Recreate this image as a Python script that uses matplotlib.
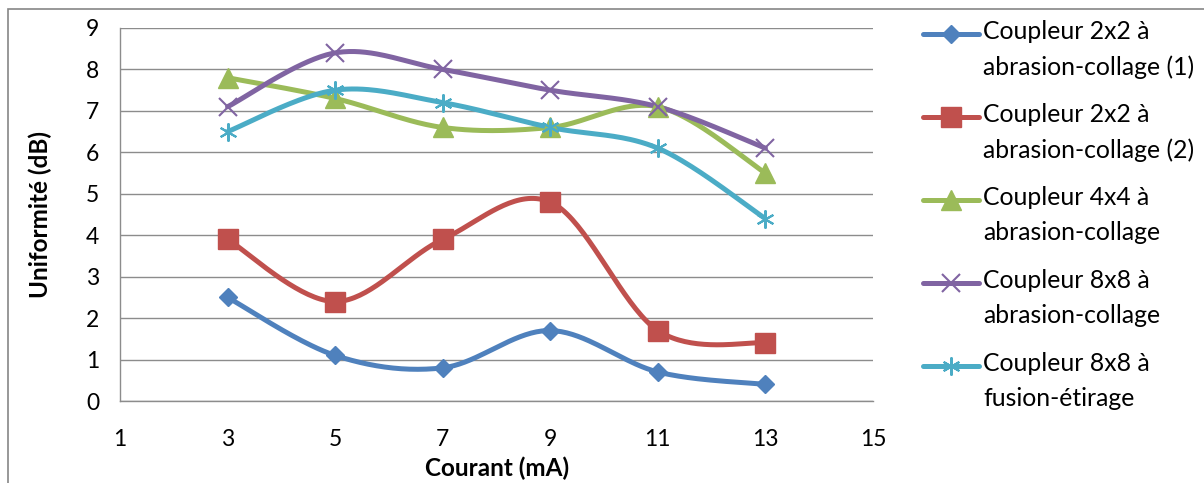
import numpy as np
import matplotlib
matplotlib.use("Agg")
import matplotlib.pyplot as plt
from matplotlib.lines import Line2D
from matplotlib.patches import Rectangle

plt.rcParams['font.family'] = ['Lato', 'DejaVu Sans']

courant = [3, 5, 7, 9, 11, 13]
s_2x2_1 = [2.5, 1.1, 0.8, 1.7, 0.7, 0.4]
s_2x2_2 = [3.9, 2.4, 3.9, 4.8, 1.7, 1.4]
s_4x4 = [7.8, 7.3, 6.6, 6.6, 7.1, 5.5]
s_8x8_ab = [7.1, 8.4, 8.0, 7.5, 7.1, 6.1]
s_8x8_fu = [6.5, 7.5, 7.2, 6.6, 6.1, 4.4]

labels = ["Coupleur 2x2 à\nabrasion-collage (1)",
          "Coupleur 2x2 à\nabrasion-collage (2)",
          "Coupleur 4x4 à\nabrasion-collage",
          "Coupleur 8x8 à\nabrasion-collage",
          "Coupleur 8x8 à\nfusion-étirage"]
series = [s_2x2_1, s_2x2_2, s_4x4, s_8x8_ab, s_8x8_fu]
colors = ["#4F81BD", "#C0504D", "#9BBB59", "#8064A2", "#4BACC6"]
markers = ["D", "s", "^", "x", "*"]
msizes = [9.5, 14, 14, 13, 13]
xticks = [1, 3, 5, 7, 9, 11, 13, 15]
yticks = list(range(0, 10))


def smooth(x, y, n=40):
    x = np.asarray(x, float); y = np.asarray(y, float)
    P = np.column_stack([x, y])
    P = np.vstack([P[0], P, P[-1]])
    out = []
    t = np.linspace(0, 1, n)[:, None]
    for i in range(1, len(P) - 2):
        p0, p1, p2, p3 = P[i - 1], P[i], P[i + 1], P[i + 2]
        c1 = p1 + (p2 - p0) / 6.0
        c2 = p2 - (p3 - p1) / 6.0
        seg = ((1 - t) ** 3) * p1 + 3 * ((1 - t) ** 2) * t * c1 + 3 * (1 - t) * t ** 2 * c2 + t ** 3 * p2
        out.append(seg if i == 1 else seg[1:])
    seg = np.vstack(out)
    return seg[:, 0], seg[:, 1]


def mk_of(m):
    return (6, 2, 0) if m == "*" else m


W, H = 1204, 483
fig = plt.figure(figsize=(W / 100, H / 100), dpi=100)
fig.patches.append(Rectangle((8 / W, -0.1), 1.2, 1 - 9 / H + 0.1, transform=fig.transFigure,
                             fill=False, edgecolor="#868686", linewidth=1.2))

ax = fig.add_axes([120 / W, 1 - 401 / H, (873 - 120) / W, (401 - 28) / H])
ax.set_xlim(1, 15)
ax.set_ylim(0, 9)
ax.set_xticks(xticks)
ax.set_yticks(yticks)
ax.tick_params(axis='both', length=0, labelsize=16.5, pad=15)
ax.tick_params(axis='x', pad=20)
ax.grid(axis='y', color="#8C8C8C", linewidth=1.0)
ax.set_axisbelow(True)
for side in ['top', 'right']:
    ax.spines[side].set_visible(False)
for side in ['left', 'bottom']:
    ax.spines[side].set_color("#8C8C8C")
    ax.spines[side].set_linewidth(1.0)

lw = 3.6
for y, c, m, ms in zip(series, colors, markers, msizes):
    sx, sy = smooth(courant, y)
    ax.plot(sx, sy, color=c, linewidth=lw, solid_capstyle='round', zorder=3)
    mew = 1.5 if m in ("x", "*") else 1
    ax.plot(courant, y, linestyle='none', marker=mk_of(m), markersize=ms, color=c,
            markeredgewidth=mew, zorder=4)

ax.set_xlabel("Courant (mA)", fontsize=17.5, fontweight='bold')
ax.set_ylabel("Uniformité (dB)", fontsize=17.5, fontweight='bold')
ax.xaxis.set_label_coords((497 - 120) / 753, (401 - 468) / 373)
ax.xaxis.label.set_va('center')
ax.yaxis.set_label_coords((40 - 120) / 753, 0.5)
ax.yaxis.label.set_va('center')

# legend drawn manually
for i, (lab, c, m, ms) in enumerate(zip(labels, colors, markers, msizes)):
    yc = 34 + i * 83
    yf = 1 - yc / H
    fig.add_artist(Line2D([923 / W, 979 / W], [yf, yf], transform=fig.transFigure,
                          color=c, linewidth=lw, solid_capstyle='round'))
    fig.add_artist(Line2D([951 / W], [yf], transform=fig.transFigure, color=c,
                          marker=mk_of(m), markersize=ms,
                          markeredgewidth=1.5 if m in ("x", "*") else 1))
    fig.text(983 / W, 1 - (yc - 14) / H, lab, fontsize=17.8, va='top', ha='left',
             linespacing=1.65, transform=fig.transFigure)

fig.savefig("out.png", dpi=100)
